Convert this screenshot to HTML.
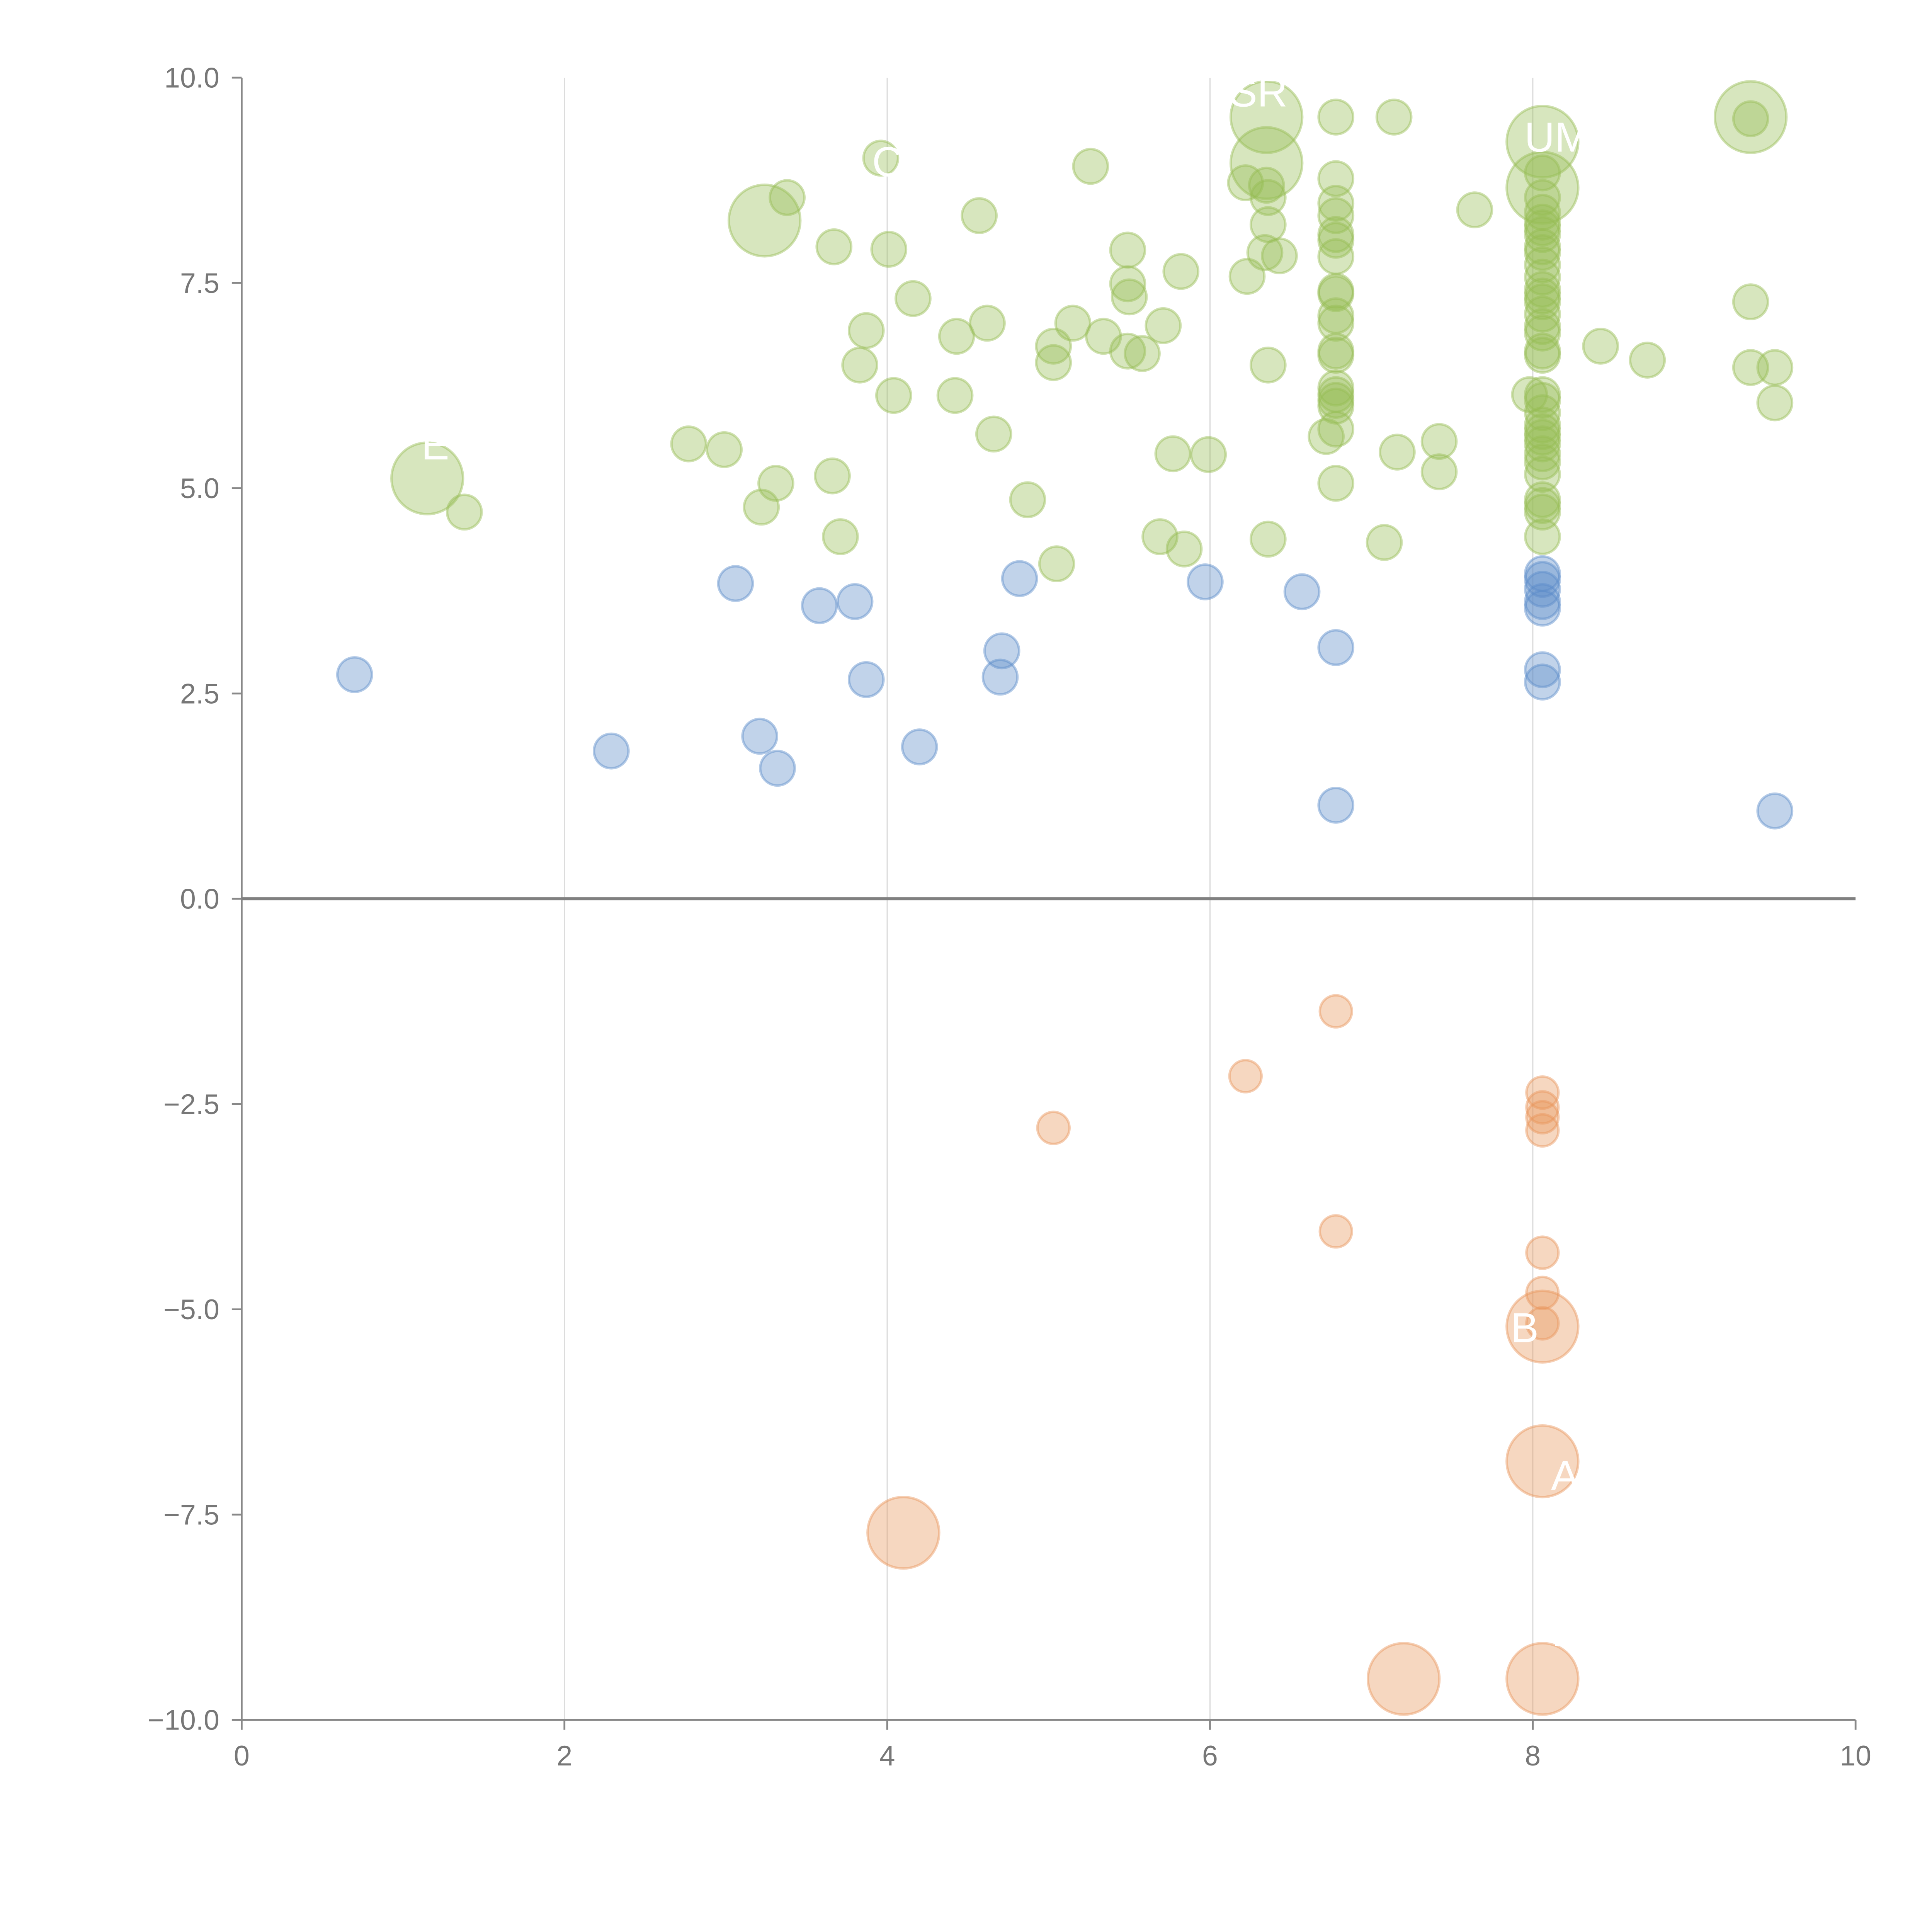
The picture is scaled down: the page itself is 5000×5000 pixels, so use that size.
<!DOCTYPE html>
<html><head><meta charset="utf-8"><style>
html,body{margin:0;padding:0;background:#fff;}
svg{display:block;}
text{font-family:"Liberation Sans",sans-serif;}
</style></head><body>
<svg id="chart" width="5000" height="5000" viewBox="0 0 1567 1567" xmlns="http://www.w3.org/2000/svg">
<g id="grid"></g>
<g id="axes"></g>
<g id="marks"></g>
<g id="labels"></g>
</svg>
<script>
const xTicks=[0,2,4,6,8,10];
const xTickLabels=["0","2","4","6","8","10"];
const yTicks=[10,7.5,5,2.5,0,-2.5,-5,-7.5,-10];
const yTickLabels=["10.0","7.5","5.0","2.5","0.0","\u22122.5","\u22125.0","\u22127.5","\u221210.0"];

const blueX=[0.70,2.29,3.06,3.21,3.32,3.58,3.80,3.87,4.20,4.71,4.70,4.82,5.97,6.57,6.78,6.78,8.06,8.06,8.06,8.06,8.06,8.06,8.06,9.50];
const blueY=[2.73,1.80,3.84,1.98,1.59,3.57,3.62,2.67,1.85,3.02,2.70,3.90,3.86,3.74,3.06,1.14,3.96,3.89,3.77,3.62,3.54,2.79,2.64,1.07];

const orangeX=[6.78,6.22,5.03,6.78,8.06,8.06,8.06,8.06,8.06,8.06,8.06];
const orangeY=[-1.37,-2.16,-2.79,-4.05,-2.36,-2.54,-2.66,-2.82,-4.31,-4.80,-5.17];
const orangeBigX=[8.06,8.06,4.10,7.20,8.06];
const orangeBigY=[-5.21,-6.85,-7.72,-9.50,-9.50];

const greenX=[1.38,2.77,2.99,3.22,3.31,3.38,3.67,3.66,3.71,3.83,3.87,3.96,4.01,4.04,4.16,4.43,4.42,4.57,4.62,4.66,4.87,5.03,5.03,5.05,5.15,5.26,5.34,5.49,5.49,5.50,5.49,5.58,5.71,5.69,5.77,5.82,5.84,5.99,6.23,6.22,6.35,6.36,6.36,6.34,6.43,6.36,6.36,6.72,
6.78,6.78,6.78,6.78,6.78,6.78,6.78,6.78,6.78,6.78,6.78,6.78,6.78,6.78,6.78,6.78,6.78,6.78,6.78,
7.14,7.16,7.08,7.42,7.42,7.64,
8.06,8.06,8.06,8.06,8.06,8.06,8.06,8.06,8.06,8.06,8.06,8.06,8.06,8.06,8.06,8.06,8.06,8.06,8.06,8.06,8.06,8.06,8.06,8.06,8.06,8.06,8.06,8.06,8.06,8.06,8.06,8.06,
7.98,8.42,8.71,9.35,9.35,9.35,9.50,9.50];
const greenY=[4.71,5.54,5.47,4.77,5.06,8.54,7.94,5.15,4.41,6.50,6.92,9.02,7.91,6.13,7.31,6.85,6.13,8.32,7.01,5.66,4.86,6.73,6.53,4.08,7.01,8.92,6.85,7.90,7.49,7.33,6.67,6.64,6.98,4.41,5.42,7.64,4.26,5.41,7.58,8.72,8.69,8.54,8.21,7.87,7.83,6.50,4.38,5.63,
9.52,8.77,8.47,8.32,8.09,8.02,7.82,7.40,7.37,7.10,7.01,6.67,6.62,6.22,6.14,6.07,6.00,5.72,5.06,
9.52,5.44,4.34,5.57,5.20,8.39,
8.84,8.54,8.36,8.24,8.17,8.09,7.94,7.87,7.72,7.57,7.42,7.34,7.27,7.12,6.97,6.89,6.67,6.62,6.14,6.07,5.92,5.77,5.69,5.62,5.54,5.42,5.32,5.17,4.86,4.79,4.71,4.41,
6.14,6.73,6.56,9.50,7.27,6.47,6.47,6.04];
const greenBigX=[1.15,3.24,6.35,6.35,8.06,8.06,9.35];
const greenBigY=[5.12,8.26,9.52,8.96,9.22,8.66,9.52];

const X0=196,X1=1505,Y0=1395,Y1=63;
function sx(v){return X0+(v-0)/(10-0)*(X1-X0);}
function sy(v){return Y0-(v+10)/20*(Y0-Y1);}
const NS="http://www.w3.org/2000/svg";
function mk(tag,attrs,parent){const e=document.createElementNS(NS,tag);for(const k in attrs)e.setAttribute(k,attrs[k]);parent.appendChild(e);return e;}
const grid=document.getElementById('grid'),axes=document.getElementById('axes'),marks=document.getElementById('marks'),labels=document.getElementById('labels');

xTicks.forEach((t,i)=>{
  if(t>0&&t<10){const g=mk('line',{x1:sx(t),x2:sx(t),y1:Y1,y2:Y0,stroke:'#dcdcdc','stroke-width':1},grid);
  
  }
  const tk=mk('line',{x1:sx(t),x2:sx(t),y1:Y0,y2:Y0+8,stroke:'#888','stroke-width':1.5},axes);
  
  
  const tx=mk('text',{x:sx(t),y:Y0+37,'text-anchor':'middle','font-size':23,fill:'#777'},axes);
  tx.textContent=xTickLabels[i];
  
  
});
yTicks.forEach((t,i)=>{
  const tk=mk('line',{x1:X0-8,x2:X0,y1:sy(t),y2:sy(t),stroke:'#888','stroke-width':1.5},axes);
  
  
  const tx=mk('text',{x:X0-18,y:sy(t)+8,'text-anchor':'end','font-size':23,fill:'#777'},axes);
  tx.textContent=yTickLabels[i];
  
  
});
const ya=mk('line',{x1:X0,x2:X0,y1:Y1,y2:Y0,stroke:'#888','stroke-width':1.5},axes);


const xa=mk('line',{x1:X0,x2:X1,y1:Y0,y2:Y0,stroke:'#888','stroke-width':1.5},axes);


const zl=mk('line',{x1:X0,x2:X1,y1:sy(0),y2:sy(0),stroke:'#808080','stroke-width':2.5},axes);



function drawSeries(xs,ys,r,color,name){
  xs.forEach((x,i)=>{
    const c=mk('circle',{cx:sx(x),cy:sy(ys[i]),r:r,fill:color,'fill-opacity':0.38,stroke:color,'stroke-opacity':0.45,'stroke-width':2},marks);
    
    
  });
}
drawSeries(greenBigX,greenBigY,29,'#97bd55','green-big-bubble');
drawSeries(orangeBigX,orangeBigY,29,'#e8955a','orange-big-bubble');
drawSeries(greenX,greenY,14,'#97bd55','green-bubble');
drawSeries(blueX,blueY,14,'#5b8bc9','blue-bubble');
drawSeries(orangeX,orangeY,13,'#e8955a','orange-bubble');

const lblText=["E","C","SR","UM","B","A","C","T","T"];
const lblX=[1.20,4.00,6.30,8.15,7.95,8.20,4.30,7.00,8.15];
const lblY=[5.35,8.80,9.65,9.10,-5.40,-7.20,-7.40,-9.10,-9.10];
lblText.forEach((t,i)=>{
  const tx=mk('text',{x:sx(lblX[i]),y:sy(lblY[i]),'text-anchor':'middle','font-size':34,fill:'#ffffff'},labels);
  tx.textContent=t;
  
  
});
</script>
</body></html>
